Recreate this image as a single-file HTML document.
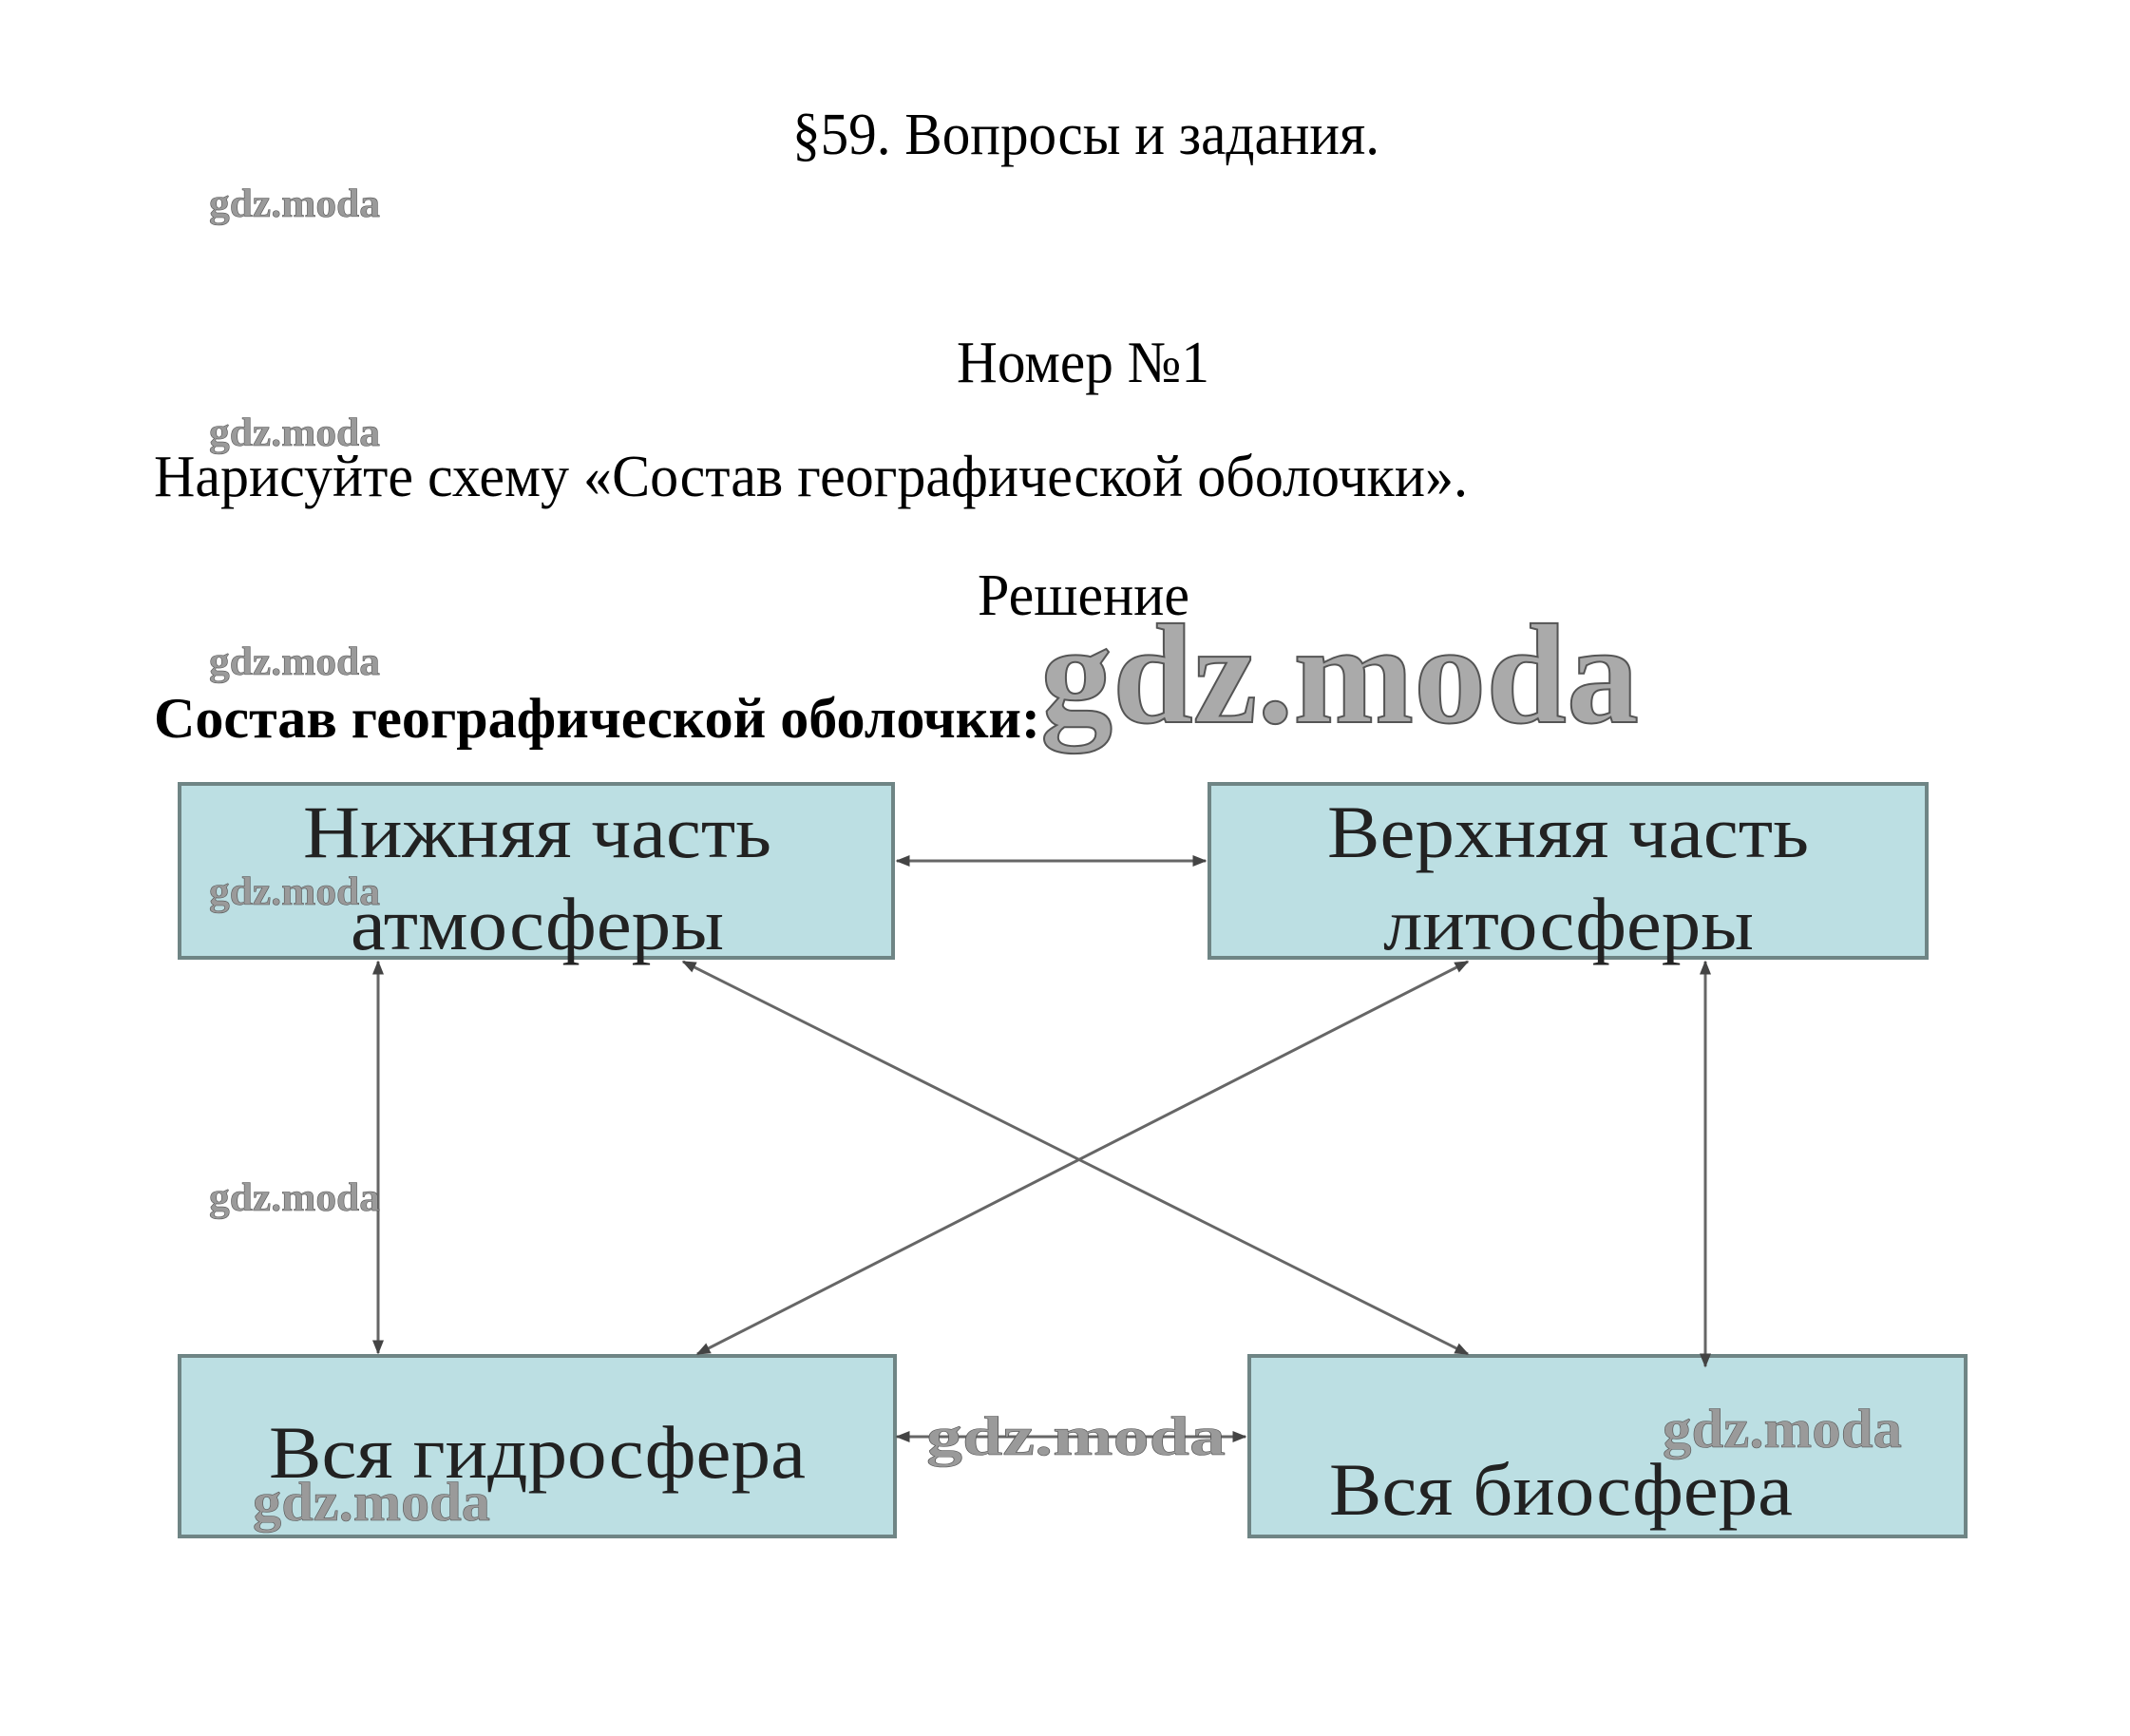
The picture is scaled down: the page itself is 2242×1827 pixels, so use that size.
<!DOCTYPE html>
<html><head><meta charset="utf-8"><style>
html,body{margin:0;padding:0;background:#fff;}
svg{display:block;}
text{font-family:"Liberation Serif",serif;}
.wm{font-weight:bold;fill:#9a9a9a;stroke:#555;stroke-width:0.6;}
</style></head><body>
<svg width="2242" height="1827" viewBox="0 0 2242 1827" xmlns="http://www.w3.org/2000/svg">
<defs>
<marker id="a" viewBox="0 0 10 10" refX="9" refY="5" markerWidth="5" markerHeight="5" orient="auto-start-reverse">
<path d="M0,1 L10,5 L0,9 z" fill="#444"/></marker>
</defs>
<text x="834" y="162" font-size="62" textLength="618" lengthAdjust="spacingAndGlyphs">§59. Вопросы и задания.</text>
<text x="1007" y="402" font-size="62" textLength="266" lengthAdjust="spacingAndGlyphs">Номер №1</text>
<text x="162" y="522" font-size="62" textLength="1383" lengthAdjust="spacingAndGlyphs">Нарисуйте схему «Состав географической оболочки».</text>
<text x="1029" y="647" font-size="62" textLength="223" lengthAdjust="spacingAndGlyphs">Решение</text>
<text x="162" y="776" font-size="60" font-weight="bold" textLength="933" lengthAdjust="spacingAndGlyphs">Состав географической оболочки:</text>
<text class="wm" x="1095" y="760" font-size="150" textLength="630" lengthAdjust="spacingAndGlyphs" style="stroke-width:2;fill:#aaa">gdz.moda</text>
<g fill="#bcdfe3" stroke="#6f8585" stroke-width="4">
<rect x="189" y="825" width="751" height="183"/>
<rect x="1273" y="825" width="755" height="183"/>
<rect x="189" y="1427" width="753" height="190"/>
<rect x="1315" y="1427" width="754" height="190"/>
</g>
<g stroke="#666" stroke-width="3" fill="none" marker-start="url(#a)" marker-end="url(#a)">
<line x1="944" y1="906" x2="1269" y2="906"/>
<line x1="944" y1="1512" x2="1311" y2="1512"/>
<line x1="398" y1="1012" x2="398" y2="1424"/>
<line x1="1795" y1="1012" x2="1795" y2="1438"/>
<line x1="719" y1="1012" x2="1545" y2="1425"/>
<line x1="1545" y1="1012" x2="734" y2="1425"/>
</g>
<g font-size="78" fill="#222">
<text x="319" y="902" textLength="493" lengthAdjust="spacingAndGlyphs">Нижняя часть</text>
<text x="369" y="999" textLength="393" lengthAdjust="spacingAndGlyphs">атмосферы</text>
<text x="1397" y="902" textLength="507" lengthAdjust="spacingAndGlyphs">Верхняя часть</text>
<text x="1456" y="999" textLength="390" lengthAdjust="spacingAndGlyphs">литосферы</text>
<text x="283" y="1555" textLength="565" lengthAdjust="spacingAndGlyphs">Вся гидросфера</text>
<text x="1399" y="1594" textLength="488" lengthAdjust="spacingAndGlyphs">Вся биосфера</text>
</g>
<g class="wm" font-size="42">
<text x="220" y="228" textLength="180" lengthAdjust="spacingAndGlyphs">gdz.moda</text>
<text x="220" y="469" textLength="180" lengthAdjust="spacingAndGlyphs">gdz.moda</text>
<text x="220" y="710" textLength="180" lengthAdjust="spacingAndGlyphs">gdz.moda</text>
<text x="220" y="952" textLength="180" lengthAdjust="spacingAndGlyphs">gdz.moda</text>
<text x="220" y="1274" textLength="180" lengthAdjust="spacingAndGlyphs">gdz.moda</text>
</g>
<g class="wm" font-size="58">
<text x="266" y="1600" textLength="250" lengthAdjust="spacingAndGlyphs">gdz.moda</text>
<text x="975" y="1531" textLength="315" lengthAdjust="spacingAndGlyphs">gdz.moda</text>
<text x="1750" y="1523" textLength="252" lengthAdjust="spacingAndGlyphs">gdz.moda</text>
</g>
</svg>
</body></html>
